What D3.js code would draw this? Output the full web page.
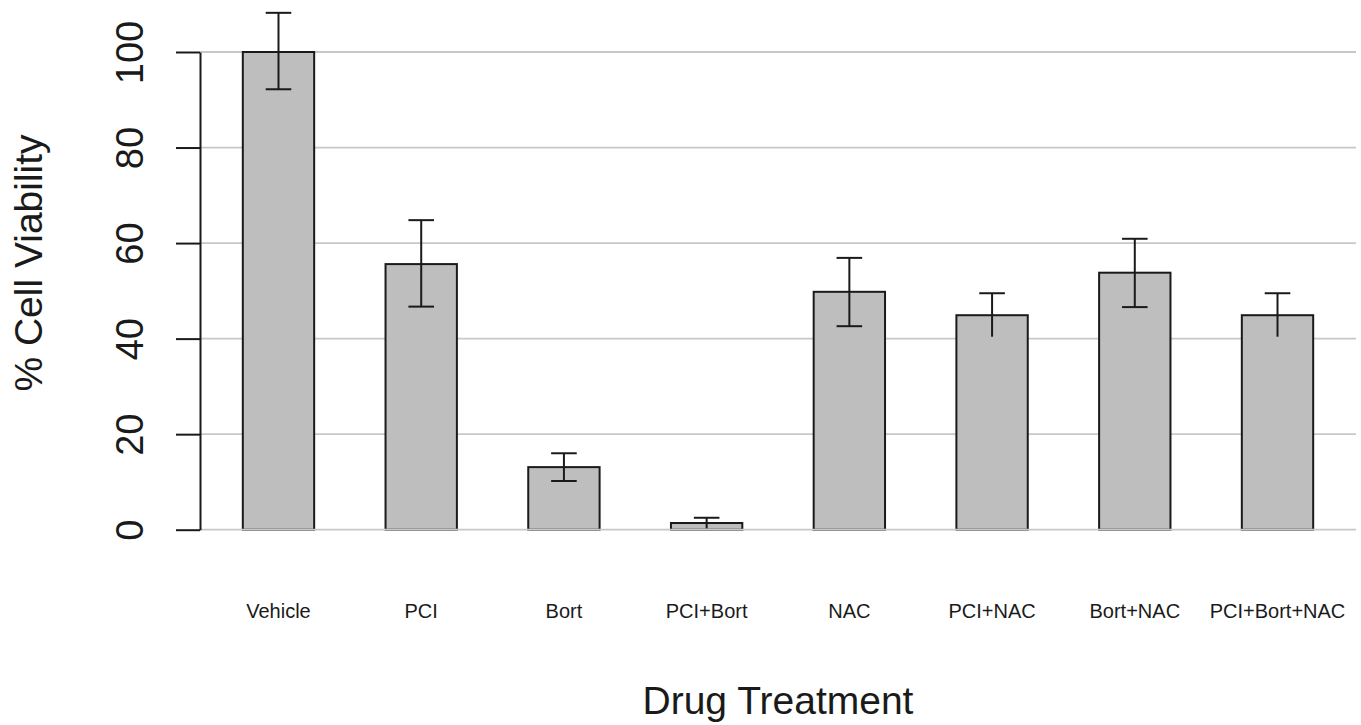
<!DOCTYPE html>
<html>
<head>
<meta charset="utf-8">
<script src="https://cdn.jsdelivr.net/npm/d3@7"></script>
<style>
  body { margin: 0; background: #fff; }
  text { font-family: "Liberation Sans", Arial, sans-serif; fill: #1a1a1a; }
  .grid line { stroke: #c8c8c8; stroke-width: 1.8; }
  .bar { fill: #bebebe; stroke: #1a1a1a; stroke-width: 2; }
  .err { stroke: #1a1a1a; stroke-width: 2; }
  .y-axis path, .y-axis line { stroke: #1a1a1a; stroke-width: 2; }
</style>
</head>
<body>
<svg id="chart"></svg>
<script>
const categories = ['Vehicle', 'PCI', 'Bort', 'PCI+Bort', 'NAC', 'PCI+NAC', 'Bort+NAC', 'PCI+Bort+NAC'];
const viability = [100, 55.6, 13.1, 1.4, 49.8, 44.9, 53.8, 44.9];
const errTop = [108.2, 64.8, 16.0, 2.5, 56.9, 49.5, 60.9, 49.5];
const errBottom = [92.2, 46.7, 10.2, 0.3, 42.6, 40.4, 46.6, 40.4];
const bottomCap = [true, true, true, false, true, false, true, false];
const yTicks = [0, 20, 40, 60, 80, 100];

const chartSize = { width: 1361, height: 725 };

const drawChart = () => {
    const svg = d3.select('#chart')
        .attr('width', chartSize.width)
        .attr('height', chartSize.height);

    const x = d3.scaleBand()
        .domain(d3.range(categories.length))
        .range([200, 1356])
        .paddingInner(0.5)
        .paddingOuter(0.3);

    const y = d3.scaleLinear()
        .domain([0, 100])
        .range([529.7, 52]);

    const mid = i => x(i) + x.bandwidth() / 2;

    // grid
    svg.append('g')
        .attr('class', 'grid')
        .selectAll('line')
        .data(yTicks.filter(t => t > 0))
        .enter()
        .append('line')
        .attr('x1', 200)
        .attr('x2', 1356)
        .attr('y1', d => y(d))
        .attr('y2', d => y(d));

    svg.selectAll('.bar')
        .data(viability)
        .enter()
        .append('rect')
        .attr('class', 'bar')
        .attr('x', (d, i) => x(i))
        .attr('y', d => y(d))
        .attr('width', x.bandwidth())
        .attr('height', d => y(0) - y(d));

    // zero line sits over the bar bottoms
    svg.append('g')
        .attr('class', 'grid')
        .append('line')
        .attr('x1', 200)
        .attr('x2', 1356)
        .attr('y1', y(0))
        .attr('y2', y(0));

    const cap = 12.8;
    const err = svg.selectAll('.errbar')
        .data(categories.map((c, i) => i))
        .enter()
        .append('g')
        .attr('class', 'errbar');

    err.append('line')
        .attr('class', 'err')
        .attr('x1', i => mid(i))
        .attr('x2', i => mid(i))
        .attr('y1', i => y(errTop[i]))
        .attr('y2', i => y(errBottom[i]));

    err.append('line')
        .attr('class', 'err')
        .attr('x1', i => mid(i) - cap)
        .attr('x2', i => mid(i) + cap)
        .attr('y1', i => y(errTop[i]))
        .attr('y2', i => y(errTop[i]));

    err.filter(i => bottomCap[i])
        .append('line')
        .attr('class', 'err')
        .attr('x1', i => mid(i) - cap)
        .attr('x2', i => mid(i) + cap)
        .attr('y1', i => y(errBottom[i]))
        .attr('y2', i => y(errBottom[i]));

    // y axis
    const yAxis = d3.axisLeft(y)
        .tickValues(yTicks)
        .tickSize(24)
        .tickSizeOuter(0)
        .tickFormat(d => d);

    const ya = svg.append('g')
        .attr('class', 'y-axis')
        .attr('transform', 'translate(200,0)')
        .call(yAxis);

    ya.selectAll('text')
        .attr('x', null)
        .attr('dy', null)
        .attr('transform', 'translate(-57,0) rotate(-90)')
        .attr('text-anchor', 'middle')
        .style('font-size', '38px')
        .style('font-family', '"Liberation Sans", Arial, sans-serif')
        .attr('fill', '#1a1a1a');

    // x labels
    svg.selectAll('.x-label')
        .data(categories)
        .enter()
        .append('text')
        .attr('class', 'x-label')
        .attr('x', (d, i) => mid(i))
        .attr('y', 617.5)
        .attr('text-anchor', 'middle')
        .style('font-size', '20px')
        .text(d => d);

    svg.append('text')
        .attr('x', 778)
        .attr('y', 714)
        .attr('text-anchor', 'middle')
        .style('font-size', '39px')
        .text('Drug Treatment');

    svg.append('text')
        .attr('transform', 'translate(42,263) rotate(-90)')
        .attr('text-anchor', 'middle')
        .style('font-size', '39px')
        .text('% Cell Viability');
};

window.onload = drawChart;
</script>
</body>
</html>
